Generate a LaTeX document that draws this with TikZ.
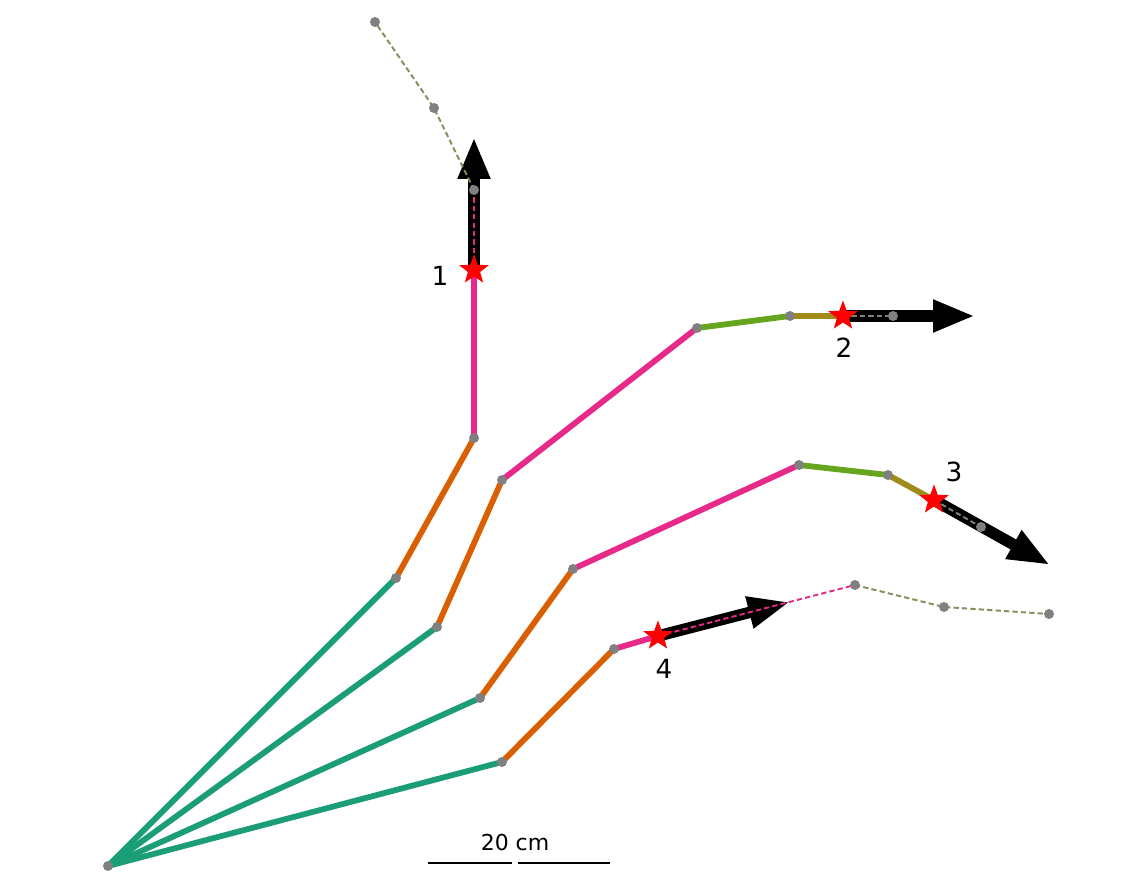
\documentclass[tikz,border=0pt]{standalone}
\usepackage{fontspec}
\setmainfont{DejaVu Sans}
\usetikzlibrary{arrows.meta,shapes.geometric}
\definecolor{cA}{HTML}{1B9E77}
\definecolor{cB}{HTML}{D95F02}
\definecolor{cC}{HTML}{E7298A}
\definecolor{cD}{HTML}{66A61E}
\definecolor{cE}{HTML}{A08A1A}
\definecolor{cF}{HTML}{8A8A5A}
\definecolor{cG}{HTML}{808080}
\tikzset{
  seg/.style={line width=3.3pt, line cap=round},
  fut/.style={line width=1.1pt, dash pattern=on 3pt off 1.8pt},
  bigarrow/.style={line width=6.5pt, -{Triangle[length=0.84cm,width=0.6cm]}},
  jdot/.style={circle, fill=cG, inner sep=0pt, minimum size=0.2cm},
  tipstar/.style={star, star points=5, star point ratio=2.4, fill=red, inner sep=0pt, minimum size=0.62cm},
  lbl/.style={font=\fontsize{15pt}{18pt}\selectfont, inner sep=0pt}
}
\begin{document}
\begin{tikzpicture}[x=0.02cm,y=-0.02cm]
\useasboundingbox (0,0) rectangle (1144,878);
% joints
\coordinate (b) at (108,866);
% arm 1
\coordinate (a1) at (396,578);
\coordinate (a2) at (474,438);
\coordinate (a3) at (474,270);
\coordinate (a4) at (474,190);
\coordinate (a5) at (434,108);
\coordinate (a6) at (375,22);
\coordinate (a7) at (474,137);
% arm 2
\coordinate (b1) at (437,627);
\coordinate (b2) at (502,480);
\coordinate (b3) at (697,328);
\coordinate (b4) at (790,316);
\coordinate (b5) at (843,316);
\coordinate (b6) at (893,316);
\coordinate (b7) at (975,316);
% arm 3
\coordinate (c1) at (480,698);
\coordinate (c2) at (573,569);
\coordinate (c3) at (799,465);
\coordinate (c4) at (888,475);
\coordinate (c5) at (934,500);
\coordinate (c6) at (981,527);
\coordinate (c7) at (1050,565);
% arm 4
\coordinate (d1) at (502,762);
\coordinate (d2) at (614,649);
\coordinate (d3) at (658,636);
\coordinate (d4) at (855,585);
\coordinate (d5) at (944,607);
\coordinate (d6) at (1049,614);
\coordinate (d7) at (790,602);

% solid segments
\draw[seg,cA] (b) -- (a1); \draw[seg,cB] (a1) -- (a2); \draw[seg,cC] (a2) -- (a3);
\draw[seg,cA] (b) -- (b1); \draw[seg,cB] (b1) -- (b2); \draw[seg,cC] (b2) -- (b3);
\draw[seg,cD] (b3) -- (b4); \draw[seg,cE] (b4) -- (b5);
\draw[seg,cA] (b) -- (c1); \draw[seg,cB] (c1) -- (c2); \draw[seg,cC] (c2) -- (c3);
\draw[seg,cD] (c3) -- (c4); \draw[seg,cE] (c4) -- (c5);
\draw[seg,cA] (b) -- (d1); \draw[seg,cB] (d1) -- (d2); \draw[seg,cC] (d2) -- (d3);

% arrows
\draw[bigarrow] (a3) -- (a7);
\draw[bigarrow] (b5) -- (b7);
\draw[bigarrow] (c5) -- (c7);
\draw[bigarrow] (d3) -- (d7);

% dashed future segments
\draw[fut,cC] (a3) -- (a4);
\draw[fut,cF] (a4) -- (a5) -- (a6);
\draw[fut,cG] (b5) -- (b6);
\draw[fut,cG] (c5) -- (c6);
\draw[fut,cC] (d3) -- (d4);
\draw[fut,cF] (d4) -- (d5) -- (d6);

% joint dots
\foreach \p in {b,a1,a2,a4,a5,a6,b1,b2,b3,b4,b6,c1,c2,c3,c4,c6,d1,d2,d4,d5,d6}
  \node[jdot] (j\p) at (\p) {};

% stars
\node[tipstar] (s1) at (a3) {};
\node[tipstar] (s2) at (b5) {};
\node[tipstar] (s3) at (c5) {};
\node[tipstar] (s4) at (d3) {};

% labels
\node[lbl] (l1) at (440,276) {1};
\node[lbl] (l2) at (844,348) {2};
\node[lbl] (l3) at (954,472) {3};
\node[lbl] (l4) at (664,669) {4};

% scale bar
\coordinate (sb1) at (428,863);
\coordinate (sb2) at (512,863);
\coordinate (sb3) at (518,863);
\coordinate (sb4) at (610,863);
\draw[line width=1.5pt] (sb1) -- (sb2);
\draw[line width=1.5pt] (sb3) -- (sb4);
\node[font=\fontsize{12.5pt}{15pt}\selectfont, inner sep=0pt] (sbl) at (515,843) {20 cm};
\end{tikzpicture}
\end{document}
